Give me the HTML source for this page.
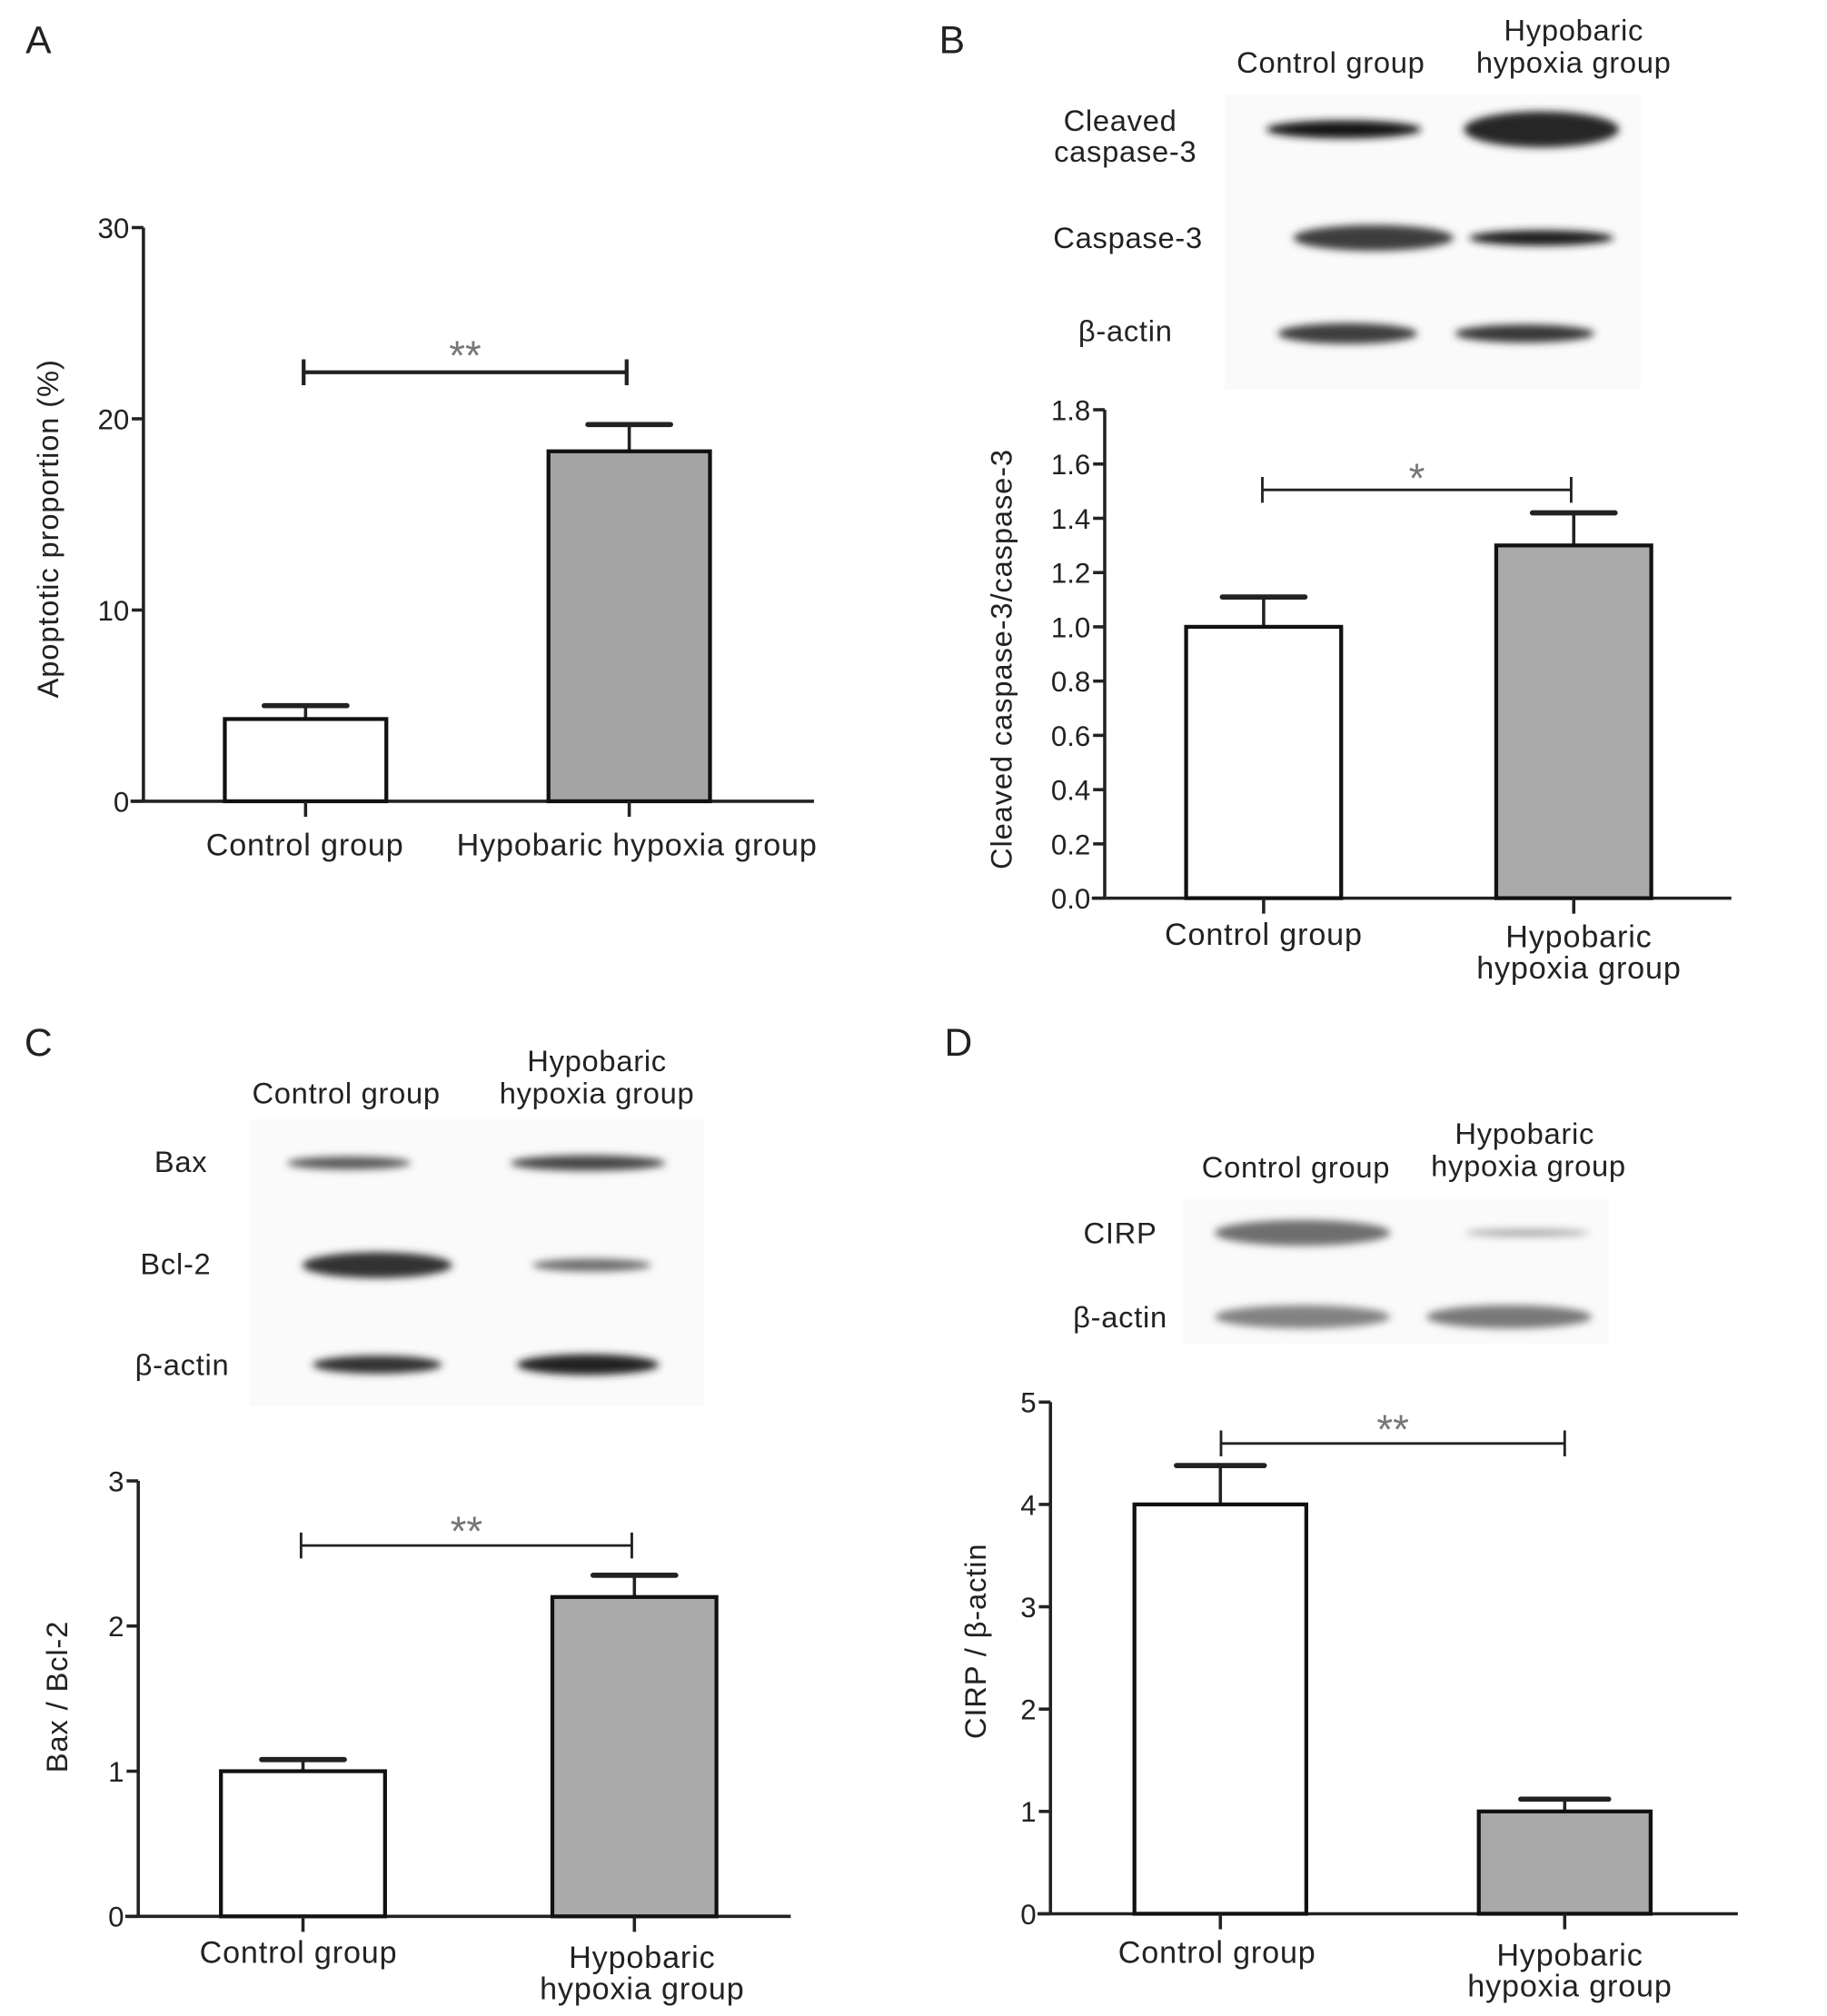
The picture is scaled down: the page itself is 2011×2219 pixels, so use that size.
<!DOCTYPE html>
<html><head><meta charset="utf-8">
<style>
html,body{margin:0;padding:0;background:#fff;}
svg{display:block;}
text{font-family:"Liberation Sans",sans-serif;fill:#222;}
</style></head>
<body>
<svg id="fig" width="2011" height="2219" viewBox="0 2 1414 1560" xmlns="http://www.w3.org/2000/svg">
<defs>
<filter id="blur" x="-20%" y="-100%" width="140%" height="300%"><feGaussianBlur stdDeviation="3"/></filter>
</defs>
</svg>
<script>
// ---- Data ----
const categories = ["Control group", "Hypobaric hypoxia group"];
const valuesA = [4.3, 18.3];
const errorsA = [0.7, 1.4];
const ticksA = [0, 10, 20, 30];
const valuesB = [1.0, 1.30];
const errorsB = [0.11, 0.12];
const ticksB = ["0.0","0.2","0.4","0.6","0.8","1.0","1.2","1.4","1.6","1.8"];
const valuesC = [1.0, 2.2];
const errorsC = [0.08, 0.15];
const ticksC = [0, 1, 2, 3];
const valuesD = [4.0, 1.0];
const errorsD = [0.38, 0.12];
const ticksD = [0, 1, 2, 3, 4, 5];
const sigA = "**", sigB = "*", sigC = "**", sigD = "**";

const NS = "http://www.w3.org/2000/svg";
const svg = document.getElementById("fig");
function mk(tag, attrs, parent, txt){
  const e = document.createElementNS(NS, tag);
  for (const k in attrs) e.setAttribute(k, attrs[k]);
  if (txt !== undefined) e.textContent = txt;
  (parent || svg).appendChild(e);
  return e;
}

function panel(cfg){
  const g = mk("g", {});
  
  
  const tvals = cfg.ticks.map(Number);
  const ymax = tvals[tvals.length-1];
  const Y = v => cfg.y0 - (v / ymax) * (cfg.y0 - cfg.ytop);
  const ya = mk("line", {x1:cfg.ax, y1:cfg.ytop, x2:cfg.ax, y2:cfg.y0, stroke:"#222","stroke-width":2.5}, g);
  
  
  const xa = mk("line", {x1:cfg.ax-10, y1:cfg.y0, x2:cfg.xend, y2:cfg.y0, stroke:"#222","stroke-width":2.5}, g);
  
  
  cfg.ticks.forEach((t) => {
    const y = Y(Number(t));
    mk("line", {x1:cfg.ax-9, y1:y, x2:cfg.ax, y2:y, stroke:"#222","stroke-width":2.5}, g);
    const tl = mk("text", {x:cfg.ax-11, y:y+8, "text-anchor":"end","font-size":cfg.tfs||22}, g, t);
    
    
  });
  const yt = mk("text", {x:0,y:0,"text-anchor":"middle","font-size":cfg.yfs||23,"letter-spacing":0.6,transform:`translate(${cfg.ytx},${cfg.yty}) rotate(-90)`}, g, cfg.ytitle);
  
  
  cfg.values.forEach((v, i) => {
    const cx = cfg.centers[i], w = cfg.bw;
    const top = Y(v), et = Y(v + cfg.errors[i]);
    const er = mk("line", {x1:cx, y1:top, x2:cx, y2:et, stroke:"#222","stroke-width":2.5}, g);
    
    
    const cap = mk("line", {x1:cx-cfg.capw, y1:et, x2:cx+cfg.capw, y2:et, stroke:"#222","stroke-width":4,"stroke-linecap":"round"}, g);
    
    
    const b = mk("rect", {x:cx-w/2, y:top, width:w, height:cfg.y0-top, fill:i===0?"#fff":cfg.fill, stroke:"#111","stroke-width":3}, g);
    
    
    mk("line", {x1:cx, y1:cfg.y0, x2:cx, y2:cfg.y0+12, stroke:"#222","stroke-width":2.5}, g);
    cfg.xlab[i].forEach((ln, k) => {
      const xl = mk("text", {x:cfg.labx[i], y:cfg.laby[i] + k*24, "text-anchor":"middle","font-size":24,"letter-spacing":0.6}, g, ln);
      
      
    });
  });
  const by = cfg.brY;
  const br = mk("path", {d:`M${cfg.brx[0]},${by-10} V${by+10} M${cfg.brx[0]},${by} H${cfg.brx[1]} M${cfg.brx[1]},${by-10} V${by+10}`, stroke:"#222","stroke-width":cfg.brw||2, fill:"none"}, g);
  
  
  const st = mk("text", {x:(cfg.brx[0]+cfg.brx[1])/2, y:by+cfg.sy, "text-anchor":"middle","font-size":32, style:"fill:#777"}, g, cfg.sig);
  
  
}

function txt(x, y, s, fs, name, anchor){
  const t = mk("text", {x:x, y:y, "font-size":fs, "text-anchor":anchor||"middle","letter-spacing":0.5}, svg, s);
  
  
}

function blot(name, box, rows){
  const g = mk("g", {});
  
  
  mk("rect", {x:box[0], y:box[1], width:box[2], height:box[3], fill:"#fafafa"}, g);
  rows.forEach(r => {
    r.bands.forEach(b => {
      const e = mk("ellipse", {cx:b[0], cy:r.y, rx:b[1], ry:b[2], fill:`rgb(${b[3]},${b[3]},${b[3]})`, filter:"url(#blur)"}, g);
      
      
    });
  });
}

txt(30, 43, "A", 30, "panel-label-a");
txt(737, 43, "B", 30, "panel-label-b");
txt(30, 819, "C", 30, "panel-label-c");
txt(742, 819, "D", 30, "panel-label-d");

// Panel A
panel({name:"chart-a", ax:111, ytop:178, y0:622, xend:630, ticks:ticksA, values:valuesA, errors:errorsA,
  centers:[236.5, 487], bw:125, capw:32, fill:"#a4a4a4", ytitle:"Apoptotic proportion (%)", ytx:45, yty:411,
  xlab:[["Control group"],["Hypobaric hypoxia group"]], labx:[236,493], laby:[664,664], brY:290, brx:[235,485], sig:sigA, brw:3, sy:-2});

// Panel B
blot("western-blot-b", [948,75,322,228], [
  {y:102, bands:[[1040,60,7,25],[1193,60,14,40]]},
  {y:186, bands:[[1063,62,10,60],[1193,56,6,30]]},
  {y:260, bands:[[1043,54,8,60],[1180,54,7,55]]}]);
txt(1030, 58, "Control group", 23, "blot-header-control");
txt(1218, 33, "Hypobaric", 23, "blot-header-hypoxia");
txt(1218, 58, "hypoxia group", 23, "blot-header-hypoxia");
txt(867, 103, "Cleaved", 23, "row-label-cleaved-caspase3");
txt(871, 127, "caspase-3", 23, "row-label-cleaved-caspase3");
txt(873, 194, "Caspase-3", 23, "row-label-caspase3");
txt(871, 266, "β-actin", 23, "row-label-beta-actin");
panel({name:"chart-b", ax:855, ytop:319, y0:697, xend:1340, ticks:ticksB, values:valuesB, errors:errorsB,
  centers:[978, 1218], bw:120, capw:32, fill:"#aaaaaa", ytitle:"Cleaved caspase-3/caspase-3", ytx:783, yty:512,
  xlab:[["Control group"],["Hypobaric","hypoxia group"]], labx:[978,1222], laby:[733,735], brY:381, brx:[977,1216], sig:sigB, sy:2});

// Panel C
blot("western-blot-c", [193,868,352,222], [
  {y:902, bands:[[270,48,5,90],[455,60,6,70]]},
  {y:981, bands:[[292,58,10,50],[458,46,5,110]]},
  {y:1058, bands:[[292,50,7,50],[455,55,8,35]]}]);
txt(268, 856, "Control group", 23, "blot-header-control");
txt(462, 831, "Hypobaric", 23, "blot-header-hypoxia");
txt(462, 856, "hypoxia group", 23, "blot-header-hypoxia");
txt(140, 909, "Bax", 23, "row-label-bax");
txt(136, 988, "Bcl-2", 23, "row-label-bcl2");
txt(141, 1066, "β-actin", 23, "row-label-beta-actin");
panel({name:"chart-c", ax:107, ytop:1148, y0:1485, xend:612, ticks:ticksC, values:valuesC, errors:errorsC,
  centers:[234.5, 491], bw:127, capw:32, fill:"#ababab", ytitle:"Bax / Bcl-2", ytx:52, yty:1315,
  xlab:[["Control group"],["Hypobaric","hypoxia group"]], labx:[231,497], laby:[1521,1525], brY:1198, brx:[233,489], sig:sigC, sy:0});

// Panel D
blot("western-blot-d", [915,930,330,112], [
  {y:956, bands:[[1008,68,10,110],[1182,48,3,170]]},
  {y:1021, bands:[[1008,68,9,130],[1168,64,9,120]]}]);
txt(1003, 913, "Control group", 23, "blot-header-control");
txt(1180, 887, "Hypobaric", 23, "blot-header-hypoxia");
txt(1183, 912, "hypoxia group", 23, "blot-header-hypoxia");
txt(867, 964, "CIRP", 23, "row-label-cirp");
txt(867, 1029, "β-actin", 23, "row-label-beta-actin");
panel({name:"chart-d", ax:813, ytop:1087, y0:1483, xend:1345, ticks:ticksD, values:valuesD, errors:errorsD,
  centers:[944.5, 1211], bw:133, capw:34, fill:"#a8a8a8", ytitle:"CIRP / β-actin", ytx:763, yty:1272,
  xlab:[["Control group"],["Hypobaric","hypoxia group"]], labx:[942,1215], laby:[1521,1523], brY:1119, brx:[945,1211], sig:sigD, sy:0});
</script>
</body></html>
